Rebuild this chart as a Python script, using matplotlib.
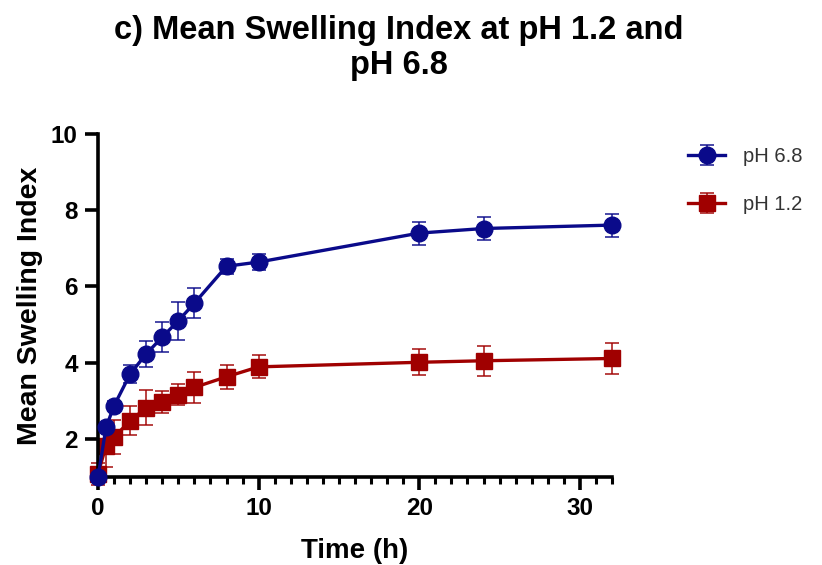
import matplotlib
matplotlib.use("Agg")
import matplotlib.pyplot as plt
from matplotlib.ticker import MultipleLocator

plt.rcParams['font.family'] = ['Liberation Sans', 'DejaVu Sans']

# Sampling times (h)
time_h = [0, 0.5, 1, 2, 3, 4, 5, 6, 8, 10, 20, 24, 32]

# Mean swelling index and SD, pH 6.8
ph68_mean = [1.00, 2.30, 2.87, 3.70, 4.23, 4.67, 5.10, 5.56, 6.53, 6.64, 7.40, 7.52, 7.61]
ph68_sd = [0.08, 0.10, 0.12, 0.24, 0.35, 0.40, 0.50, 0.40, 0.20, 0.22, 0.30, 0.30, 0.30]

# Mean swelling index and SD, pH 1.2
ph12_mean = [1.08, 1.82, 2.05, 2.47, 2.82, 2.97, 3.16, 3.35, 3.63, 3.89, 4.01, 4.05, 4.11]
ph12_sd = [0.30, 0.55, 0.45, 0.38, 0.45, 0.28, 0.28, 0.40, 0.32, 0.30, 0.34, 0.40, 0.40]

blue = '#0a0a8a'
red = '#a00000'

W, H = 822, 565
fig = plt.figure(figsize=(W / 100, H / 100), dpi=100)
ax = fig.add_axes([98 / W, 1 - 477 / H, (612 - 98) / W, (477 - 134) / H])

series = [
    (ph68_mean, ph68_sd, blue, 'o', 12, 'pH 6.8', 3),
    (ph12_mean, ph12_sd, red, 's', 11, 'pH 1.2', 2),
]
for mean, sd, col, mk, ms, name, z in series:
    cont = ax.errorbar(time_h, mean, yerr=sd, color=col, marker=mk, markersize=ms,
                       linewidth=2.4, elinewidth=1.3, capsize=5, capthick=1.3,
                       label=name, zorder=z, clip_on=False)
    for part in list(cont[1]) + list(cont[2]):
        part.set_alpha(0.8)

ax.set_xlim(0, 32)
ax.set_ylim(1, 10)
ax.xaxis.set_major_locator(MultipleLocator(10))
ax.xaxis.set_minor_locator(MultipleLocator(1))
ax.set_yticks([2, 4, 6, 8, 10])

for side in ('top', 'right'):
    ax.spines[side].set_visible(False)
for side in ('left', 'bottom'):
    ax.spines[side].set_linewidth(2.6)

ax.tick_params(axis='both', which='major', length=9.5, width=2.6, labelsize=17.5, pad=5)
ax.tick_params(axis='x', which='minor', length=5, width=2.2)
for lbl in ax.get_xticklabels() + ax.get_yticklabels():
    lbl.set_fontweight('bold')

ax.set_xlabel('Time (h)', fontsize=20, fontweight='bold', labelpad=13)
ax.set_ylabel('Mean Swelling Index', fontsize=20.5, fontweight='bold', labelpad=6)

fig.text(399 / W, 1 - 48 / H, 'c) Mean Swelling Index at pH 1.2 and\npH 6.8',
         ha='center', va='center', fontsize=23.5, fontweight='bold', linespacing=1.2)

leg = ax.legend(loc='upper left', bbox_to_anchor=(688 / W, 1 - 147 / H),
                bbox_transform=fig.transFigure, frameon=False, fontsize=14.5,
                handlelength=1.85, handletextpad=0.9, labelspacing=1.45,
                borderpad=0, borderaxespad=0)
for t in leg.get_texts():
    t.set_color('#333333')

fig.savefig('out.png', dpi=100)
